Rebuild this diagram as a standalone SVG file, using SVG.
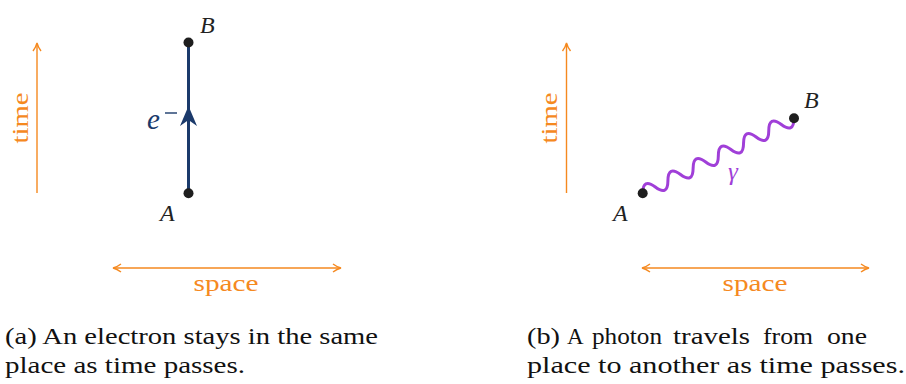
<svg xmlns="http://www.w3.org/2000/svg" width="906" height="384" viewBox="0 0 906 384">
<defs>
<style>
.ax{stroke:#f5891f;stroke-width:1.4;fill:none}
.axt{fill:#f5891f;font-family:"Liberation Serif","Times New Roman",Tinos,serif;font-size:24px}
.lbl{fill:#222;font-family:"Liberation Serif","Times New Roman",Tinos,serif;font-style:italic;font-size:24px}
.cap{fill:#111;font-family:"Liberation Serif","Times New Roman",Tinos,serif;font-size:23px}
.dot{fill:#1e1e1e}
</style>
<marker id="ah" viewBox="0 0 10 10" refX="8" refY="5" markerWidth="10" markerHeight="10" markerUnits="userSpaceOnUse" orient="auto-start-reverse">
<path d="M1,1 Q5,4 9,5 Q5,6 1,9" fill="none" stroke="#f5891f" stroke-width="1.4"/>
</marker>
</defs>
<g id="axes-a">
<line class="ax" x1="37" y1="193" x2="37" y2="44" marker-end="url(#ah)"/>
<text class="axt" transform="translate(28,118) rotate(-90)" text-anchor="middle" textLength="51" lengthAdjust="spacingAndGlyphs">time</text>
<line class="ax" x1="114" y1="268" x2="340" y2="268" marker-start="url(#ah)" marker-end="url(#ah)"/>
<text class="axt" x="226" y="291" text-anchor="middle" textLength="65" lengthAdjust="spacingAndGlyphs">space</text>
</g>
<g id="axes-b">
<line class="ax" x1="566.5" y1="193" x2="566.5" y2="44" marker-end="url(#ah)"/>
<text class="axt" transform="translate(557,118) rotate(-90)" text-anchor="middle" textLength="51" lengthAdjust="spacingAndGlyphs">time</text>
<line class="ax" x1="643" y1="268" x2="868" y2="268" marker-start="url(#ah)" marker-end="url(#ah)"/>
<text class="axt" x="755" y="291" text-anchor="middle" textLength="65" lengthAdjust="spacingAndGlyphs">space</text>
</g>
<g id="connectors">
<g id="electron">
<line x1="188.5" y1="193" x2="188.5" y2="43" stroke="#1b3a6b" stroke-width="3"/>
<path d="M188.5,106 L197,126 L188.5,120 L180,126 Z" fill="#1b3a6b"/>
<text x="147" y="129" fill="#1b3a6b" font-family="Liberation Serif, Times New Roman, Tinos, serif" font-style="italic" font-size="29">e</text>
<line x1="165" y1="113" x2="177" y2="113" stroke="#1b3a6b" stroke-width="1.4"/>
</g>
<g id="photon">
<path transform="translate(642.7,193.3) rotate(-26.37)" d="M0,0 q7.04,-14 14.07,0 t14.07,0 t14.07,0 t14.07,0 t14.07,0 t14.07,0 t14.07,0 t14.07,0 t14.07,0 t14.07,0 t14.07,0 t14.07,0" fill="none" stroke="#a03fd8" stroke-width="3" stroke-linecap="round"/>
<text x="728" y="180" fill="#a03fd8" font-family="Liberation Serif, Times New Roman, Tinos, serif" font-style="italic" font-size="25">γ</text>
</g>
</g>
<g id="node-A1"><circle class="dot" cx="188.5" cy="193.3" r="5"/><text class="lbl" x="160" y="221">A</text></g>
<g id="node-B1"><circle class="dot" cx="188.5" cy="42.5" r="5"/><text class="lbl" x="200" y="33">B</text></g>
<g id="node-A2"><circle class="dot" cx="642.7" cy="193.3" r="5"/><text class="lbl" x="613" y="221">A</text></g>
<g id="node-B2"><circle class="dot" cx="794" cy="118.3" r="5"/><text class="lbl" x="804" y="108">B</text></g>
<g id="captions">
<text class="cap" x="5" y="344" textLength="373" lengthAdjust="spacingAndGlyphs">(a) An electron stays in the same</text>
<text class="cap" x="5" y="373" textLength="240" lengthAdjust="spacingAndGlyphs">place as time passes.</text>
<text class="cap" x="527" y="344" textLength="33" lengthAdjust="spacingAndGlyphs">(b)</text>
<text class="cap" x="567" y="344">A</text>
<text class="cap" x="592" y="344" textLength="70" lengthAdjust="spacingAndGlyphs">photon</text>
<text class="cap" x="673" y="344" textLength="77" lengthAdjust="spacingAndGlyphs">travels</text>
<text class="cap" x="763" y="344" textLength="50" lengthAdjust="spacingAndGlyphs">from</text>
<text class="cap" x="827" y="344" textLength="40" lengthAdjust="spacingAndGlyphs">one</text>
<text class="cap" x="527" y="373" textLength="378" lengthAdjust="spacingAndGlyphs">place to another as time passes.</text>
</g>
</svg>
